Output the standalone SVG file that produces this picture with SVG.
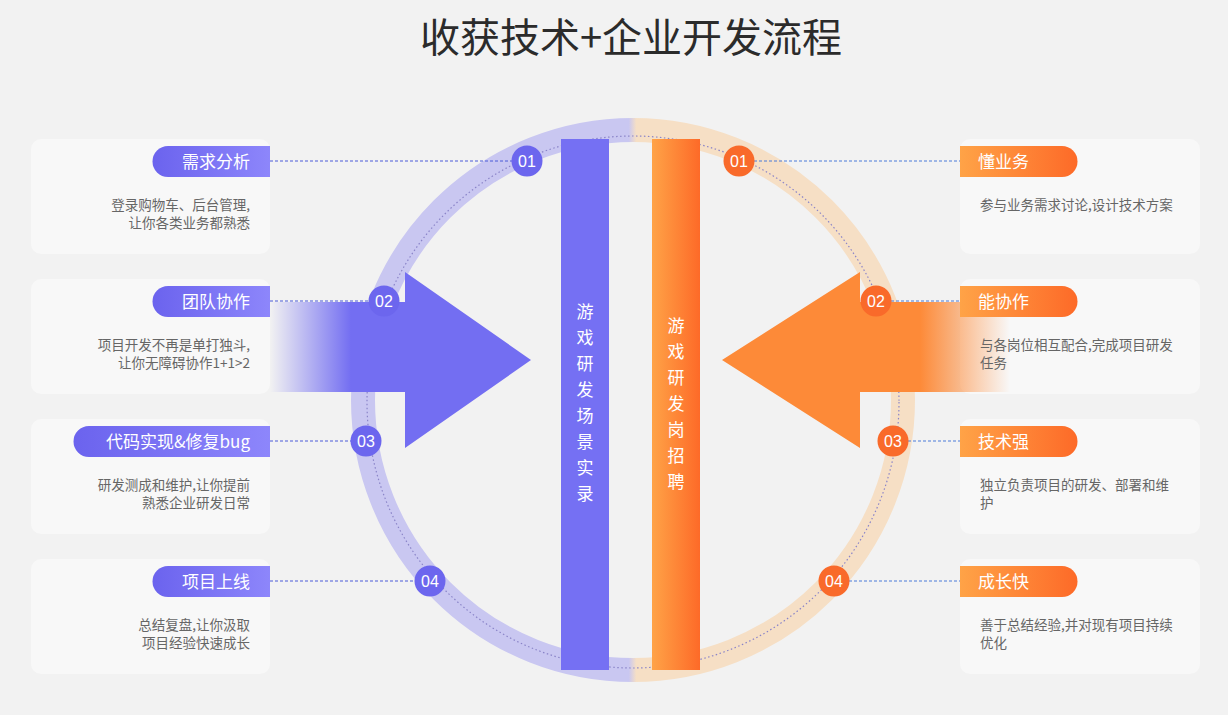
<svg xmlns="http://www.w3.org/2000/svg" width="1228" height="715" viewBox="0 0 1228 715">
<defs>
<style>
.t{font-family:"Noto Sans CJK SC","Liberation Sans",sans-serif}
.card{fill:#f8f8f8}
.pl{fill:url(#pp)}
.po{fill:url(#po)}
.pt{font-family:"Noto Sans CJK SC",sans-serif;font-size:17px;fill:#fff}
.d{font-family:"Noto Sans CJK SC",sans-serif;font-size:13.5px;fill:#666}
.bn{font-family:"Liberation Sans",sans-serif;font-size:16px;fill:#fff;text-anchor:middle}
.dl{stroke:#4a5ad8;stroke-width:1;stroke-dasharray:3 2;fill:none}
.dr{stroke:#4a7ad8;stroke-width:1;stroke-dasharray:3 2;fill:none}
.vt{font-family:"Noto Sans CJK SC",sans-serif;font-size:17px;fill:#fff;text-anchor:middle}
</style>
<linearGradient id="pp" x1="0" x2="1"><stop offset="0" stop-color="#6b63ee"/><stop offset="1" stop-color="#8d86fb"/></linearGradient>
<linearGradient id="po" x1="0" x2="1"><stop offset="0" stop-color="#ffa347"/><stop offset="1" stop-color="#fd6a28"/></linearGradient>
<linearGradient id="ob" x1="0" x2="1"><stop offset="0" stop-color="#ffa347"/><stop offset="1" stop-color="#fd6a28"/></linearGradient>
<linearGradient id="al" x1="270" x2="405" gradientUnits="userSpaceOnUse"><stop offset="0" stop-color="#736ef2" stop-opacity="0"/><stop offset="0.6" stop-color="#736ef2" stop-opacity="1"/></linearGradient>
<linearGradient id="ar" x1="1010" x2="860" gradientUnits="userSpaceOnUse"><stop offset="0" stop-color="#fd8a38" stop-opacity="0"/><stop offset="0.6" stop-color="#fd8a38" stop-opacity="1"/></linearGradient>
<linearGradient id="ring" x1="595" x2="670" gradientUnits="userSpaceOnUse"><stop offset="0.45" stop-color="#c9c7f1"/><stop offset="0.55" stop-color="#f6dfc5"/></linearGradient>
</defs>
<rect width="1228" height="715" fill="#f2f2f2"/>
<text class="t" x="631" y="52" font-size="40" fill="#2b2b2b" text-anchor="middle">收获技术+企业开发流程</text>

<circle cx="633" cy="400" r="270" fill="none" stroke="url(#ring)" stroke-width="24"/>
<circle cx="633" cy="402" r="266" fill="none" stroke="#8a84c8" stroke-width="1.2" stroke-dasharray="1.5 2.5"/>

<g id="cards">
<rect class="card" x="31" y="139" width="239" height="115" rx="10"/>
<rect class="card" x="31" y="279" width="239" height="115" rx="10"/>
<rect class="card" x="31" y="419" width="239" height="115" rx="10"/>
<rect class="card" x="31" y="559" width="239" height="115" rx="10"/>
<rect class="card" x="960" y="139" width="240" height="115" rx="10"/>
<rect class="card" x="960" y="279" width="240" height="115" rx="10"/>
<rect class="card" x="960" y="419" width="240" height="115" rx="10"/>
<rect class="card" x="960" y="559" width="240" height="115" rx="10"/>
</g>

<g id="arrows">
<path d="M270 302H405V272L531 360L405 448V392H270Z" fill="url(#al)"/>
<path d="M1010 302H860V272L722 360L860 448V392H1010Z" fill="url(#ar)"/>
</g>

<g id="connectors">
<path class="dl" d="M270 161H527M270 301H384M270 441H366M270 581H430"/>
<path class="dr" d="M739 161H960M876 301H960M893 441H960M834 581H960"/>
</g>

<g id="bars">
<rect x="561" y="139" width="48" height="531" fill="#7570f3"/>
<rect x="652" y="139" width="48" height="531" fill="url(#ob)"/>
<text class="vt" x="585" y="318">游</text><text class="vt" x="585" y="344">戏</text><text class="vt" x="585" y="370">研</text><text class="vt" x="585" y="396">发</text><text class="vt" x="585" y="422">场</text><text class="vt" x="585" y="448">景</text><text class="vt" x="585" y="474">实</text><text class="vt" x="585" y="500">录</text>
<text class="vt" x="676" y="332">游</text><text class="vt" x="676" y="358">戏</text><text class="vt" x="676" y="384">研</text><text class="vt" x="676" y="410">发</text><text class="vt" x="676" y="436">岗</text><text class="vt" x="676" y="462">招</text><text class="vt" x="676" y="488">聘</text>
</g>

<g id="left-nodes">
<g id="l1"><path class="pl" d="M168 146H270V177H168A15.5 15.5 0 0 1 168 146Z"/><text class="pt" x="250" y="168" text-anchor="end">需求分析</text>
<text class="d" x="250" y="210" text-anchor="end">登录购物车、后台管理,</text><text class="d" x="250" y="228" text-anchor="end">让你各类业务都熟悉</text>
<circle cx="527" cy="161" r="15.5" fill="#6c66ee"/><text class="bn" x="527" y="167">01</text></g>
<g id="l2"><path class="pl" d="M168 286H270V317H168A15.5 15.5 0 0 1 168 286Z"/><text class="pt" x="250" y="308" text-anchor="end">团队协作</text>
<text class="d" x="250" y="350" text-anchor="end">项目开发不再是单打独斗,</text><text class="d" x="250" y="368" text-anchor="end">让你无障碍协作1+1&gt;2</text>
<circle cx="384" cy="301" r="15.5" fill="#6c66ee"/><text class="bn" x="384" y="307">02</text></g>
<g id="l3"><path class="pl" d="M89 426H270V457H89A15.5 15.5 0 0 1 89 426Z"/><text class="pt" x="250" y="448" text-anchor="end">代码实现&amp;修复bug</text>
<text class="d" x="250" y="490" text-anchor="end">研发测成和维护,让你提前</text><text class="d" x="250" y="508" text-anchor="end">熟悉企业研发日常</text>
<circle cx="366" cy="441" r="15.5" fill="#6c66ee"/><text class="bn" x="366" y="447">03</text></g>
<g id="l4"><path class="pl" d="M168 566H270V597H168A15.5 15.5 0 0 1 168 566Z"/><text class="pt" x="250" y="588" text-anchor="end">项目上线</text>
<text class="d" x="250" y="630" text-anchor="end">总结复盘,让你汲取</text><text class="d" x="250" y="648" text-anchor="end">项目经验快速成长</text>
<circle cx="430" cy="581" r="15.5" fill="#6c66ee"/><text class="bn" x="430" y="587">04</text></g>
</g>

<g id="right-nodes">
<g id="r1"><path class="po" d="M960 146H1062A15.5 15.5 0 0 1 1062 177H960Z"/><text class="pt" x="978" y="168">懂业务</text>
<text class="d" x="980" y="210">参与业务需求讨论,设计技术方案</text>
<circle cx="739" cy="161" r="15.5" fill="#f96a2a"/><text class="bn" x="739" y="167">01</text></g>
<g id="r2"><path class="po" d="M960 286H1062A15.5 15.5 0 0 1 1062 317H960Z"/><text class="pt" x="978" y="308">能协作</text>
<text class="d" x="980" y="350">与各岗位相互配合,完成项目研发</text><text class="d" x="980" y="368">任务</text>
<circle cx="876" cy="301" r="15.5" fill="#f96a2a"/><text class="bn" x="876" y="307">02</text></g>
<g id="r3"><path class="po" d="M960 426H1062A15.5 15.5 0 0 1 1062 457H960Z"/><text class="pt" x="978" y="448">技术强</text>
<text class="d" x="980" y="490">独立负责项目的研发、部署和维</text><text class="d" x="980" y="508">护</text>
<circle cx="893" cy="441" r="15.5" fill="#f96a2a"/><text class="bn" x="893" y="447">03</text></g>
<g id="r4"><path class="po" d="M960 566H1062A15.5 15.5 0 0 1 1062 597H960Z"/><text class="pt" x="978" y="588">成长快</text>
<text class="d" x="980" y="630">善于总结经验,并对现有项目持续</text><text class="d" x="980" y="648">优化</text>
<circle cx="834" cy="581" r="15.5" fill="#f96a2a"/><text class="bn" x="834" y="587">04</text></g>
</g>
</svg>
